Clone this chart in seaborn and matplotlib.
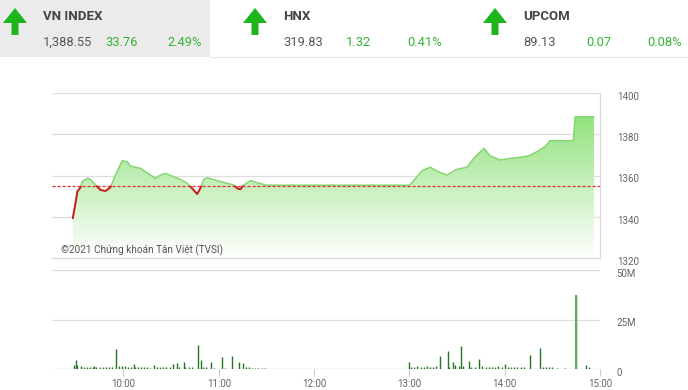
import numpy as np
import pandas as pd
import matplotlib
matplotlib.use("Agg")
import matplotlib.pyplot as plt
import matplotlib.transforms as mtransforms
from matplotlib.patches import Polygon, Rectangle
from matplotlib.lines import Line2D
import seaborn as sns

# ---------------- data ----------------
# header
idx_names = ["VN INDEX", "HNX", "UPCOM"]
idx_values = ["1,388.55", "319.83", "89.13"]
idx_changes = ["33.76", "1.32", "0.07"]
idx_pcts = ["2.49%", "0.41%", "0.08%"]

ref_price = 1354.79

# price: minutes after 09:00 and index value
price_min = [28.1, 29.8, 30.9, 33.0, 34.0, 37.2, 39.2, 42.4, 45.5, 48.7, 51.8, 55.0,
             59.2, 62.3, 64.4, 67.5, 70.7, 73.8, 77.0, 80.1, 83.3, 86.4, 90.6, 95.8,
             100.1, 103.2, 106.4, 108.4, 110.5, 112.6, 118.9, 125.2, 129.4, 131.5,
             133.6, 135.7, 139.9, 144.1, 147.2, 150.0, 240.0, 241.6, 247.9, 253.1,
             258.3, 263.6, 269.9, 276.2, 281.4, 287.0, 290.8, 297.1, 303.4, 309.6,
             314.9, 320.2, 325.4, 328.5, 343.2, 344.3, 356.2]
price_val = [1339.3, 1346.5, 1352.2, 1354.3, 1357.0, 1358.6, 1358.1, 1355.4, 1353.0,
             1352.5, 1354.3, 1360.2, 1367.2, 1366.7, 1364.6, 1364.0, 1363.5, 1361.8,
             1360.2, 1358.6, 1360.2, 1361.0, 1359.7, 1358.1, 1356.2, 1353.8, 1351.0,
             1353.8, 1358.1, 1358.9, 1357.5, 1356.2, 1355.4, 1353.8, 1353.3, 1355.4,
             1357.5, 1356.5, 1355.9, 1355.3, 1355.3, 1356.5, 1362.3, 1364.0, 1361.8,
             1360.2, 1363.0, 1364.0, 1369.1, 1373.2, 1369.5, 1367.5, 1368.3, 1368.8,
             1369.5, 1371.5, 1374.0, 1376.9, 1376.9, 1388.5, 1388.5]

# volume (millions): minutes after 09:00
vol_min = [29, 30.3, 31, 33, 35, 37, 39, 41, 41.3, 43, 45, 47, 49, 51, 53, 55.4, 57, 59,
           61, 63, 65, 66.5, 67, 69, 71, 73, 75, 77, 79, 81, 83, 85, 87, 89, 91.4, 93.8,
           95, 97.9, 99, 101, 103, 106.7, 108.9, 110, 112, 115.2, 117, 121.8, 124,
           128.4, 133, 135, 137, 139, 141, 143, 145, 147, 149,
           240, 241, 243, 245, 247, 249, 251, 253, 255, 257, 259.4, 264, 265, 267.7,
           269, 271, 272.4, 274, 277.8, 279, 281, 284.1, 286, 288, 290, 292, 294, 296,
           298, 300.2, 302, 304, 306, 308, 310, 312, 316, 322.3, 324, 326, 328, 330,
           333, 338, 345, 351.3, 353]
vol_val = [2.0, 4.5, 1.8, 1.5, 1.2, 1.0, 1.1, 1.0, 1.5, 0.9, 0.8, 1.1, 0.9, 1.0, 1.2,
           10.0, 1.6, 1.3, 1.4, 1.2, 1.0, 2.5, 0.9, 0.8, 0.9, 0.8, 1.0, 0.7, 2.0, 0.8,
           1.0, 0.8, 0.9, 1.1, 2.5, 3.0, 1.0, 3.7, 0.9, 0.8, 1.0, 12.3, 4.5, 1.0, 0.8,
           3.7, 0.6, 5.9, 0.5, 6.7, 3.7, 2.8, 1.2, 0.8, 0.7, 0.6, 0.5, 0.5, 0.4,
           3.7, 1.2, 1.0, 1.3, 1.1, 1.0, 1.4, 1.2, 1.0, 1.3, 6.7, 9.2, 1.2, 3.7, 2.0,
           1.5, 11.7, 1.4, 4.2, 1.2, 1.0, 5.3, 1.3, 1.1, 1.2, 1.0, 1.1, 1.3, 1.0, 2.5,
           1.2, 1.0, 1.1, 0.9, 1.0, 0.8, 7.0, 10.4, 1.2, 1.0, 0.9, 0.8, 0.4, 0.4, 37.4,
           2.2, 0.8]

x_ticks_min = [60, 120, 180, 240, 300, 360]
x_tick_labels = ["10:00", "11:00", "12:00", "13:00", "14:00", "15:00"]
price_ticks = [1320, 1340, 1360, 1380, 1400]
vol_ticks = [0, 25, 50]
vol_tick_labels = ["0", "25M", "50M"]

# ---------------- style ----------------
sns.set_theme(style="white")
FONT = ["Roboto", "DejaVu Sans"]
plt.rcParams["font.family"] = FONT

W, H = 688, 390
fig = plt.figure(figsize=(W / 100, H / 100), dpi=100)
fig.patch.set_facecolor("white")


def fx(px):
    return px / W


def fy(py):
    return 1 - py / H


# header background
fig.add_artist(Rectangle((0, fy(57)), fx(210), 57 / H, transform=fig.transFigure,
                         facecolor="#ebebeb", edgecolor="none", zorder=0))
fig.add_artist(Line2D([fx(210), 1], [fy(57), fy(57)], transform=fig.transFigure,
                      color="#e6e6e6", lw=0.8))

arrow_x = [15, 255, 495]
text_x = [43, 283, 523]
chg_x = [105, 346, 586]
pct_x = [167, 407, 647]
GREEN_TXT = "#33b533"
for i in range(3):
    cx = arrow_x[i]
    pts = [(cx, 8), (cx + 12, 23), (cx + 3.5, 23), (cx + 3.5, 35), (cx - 3.5, 35),
           (cx - 3.5, 23), (cx - 12, 23)]
    fig.add_artist(Polygon([(fx(a), fy(b)) for a, b in pts], closed=True,
                           transform=fig.transFigure, facecolor="#1db41d",
                           edgecolor="none"))
    fig.text(fx(text_x[i]), fy(17), idx_names[i], fontsize=9.5, fontweight="bold",
             color="#444444", va="center", ha="left", family=FONT)
    fig.text(fx(text_x[i]), fy(42), idx_values[i], fontsize=9.3, color="#555555",
             va="center", ha="left", family=FONT)
    fig.text(fx(chg_x[i]), fy(42), idx_changes[i], fontsize=9.3, color=GREEN_TXT,
             va="center", ha="left", family=FONT)
    fig.text(fx(pct_x[i]), fy(42), idx_pcts[i], fontsize=9.3, color=GREEN_TXT,
             va="center", ha="left", family=FONT)

# ---------------- price axes ----------------
L, R = 52, 600
ax = fig.add_axes([fx(L), fy(258), fx(R - L), (258 - 93) / H])
ax.set_xlim(15, 360)
ax.set_ylim(1320, 1400)

df = pd.DataFrame({"t": price_min, "p": price_val})

# gradient fill under the line
fill = ax.fill_between(df["t"], df["p"], 1320, facecolor="none", edgecolor="none")
top_c = np.array([0.55, 0.88, 0.47])
bot_c = np.array([1.0, 1.0, 1.0])
n = 256
fr = np.linspace(0, 1, n)[:, None]  # 0 bottom -> 1 top
grad = bot_c + (top_c - bot_c) * fr
grad = np.clip(grad, 0, 1)[:, None, :]
im = ax.imshow(grad, extent=[15, 360, 1320, 1392], origin="lower", aspect="auto",
               zorder=1, interpolation="bilinear")
clip_path = fill.get_paths()[0]
im.set_clip_path(clip_path, transform=ax.transData)

for v in [1340, 1360, 1380, 1400]:
    ax.axhline(v, color="#dedede", lw=0.9, zorder=0.5)

sns.lineplot(data=df, x="t", y="p", ax=ax, color="#86d673", lw=1.1, zorder=3,
             estimator=None, sort=False)

# red segments where price below reference
tt = np.linspace(df["t"].min(), df["t"].max(), 4000)
pp = np.interp(tt, df["t"], df["p"])
red = np.where(pp < ref_price, pp, np.nan)
ax.plot(tt, red, color="#c81e1e", lw=1.4, zorder=4)

ax.axhline(ref_price, color="#e03030", lw=0.9, ls=(0, (2.5, 1.5)), zorder=5)

shift_down = mtransforms.ScaledTranslation(0, -3 / 100, fig.dpi_scale_trans)

ax.set_xticks([])
ax.yaxis.tick_right()
ax.set_yticks(price_ticks)
ax.set_yticklabels([str(v) for v in price_ticks])
ax.tick_params(axis="y", length=0, pad=12, labelsize=7, labelcolor="#666666")
for lab in ax.get_yticklabels():
    lab.set_family(FONT)
    lab.set_transform(lab.get_transform() + shift_down)
ax.set_xlabel("")
ax.set_ylabel("")
for s in ["left", "top"]:
    ax.spines[s].set_visible(False)
ax.spines["right"].set_color("#d8d8d8")
ax.spines["right"].set_linewidth(0.9)
ax.spines["bottom"].set_color("#d8d8d8")
ax.spines["bottom"].set_linewidth(0.9)
ax.patch.set_alpha(0)

ax.text((61 - L) / (R - L), (258 - 250) / 165, "©2021 Chứng khoán Tân Việt (TVSI)",
        transform=ax.transAxes, fontsize=7.2, color="#555555", va="center", ha="left",
        family=FONT, zorder=6)

# ---------------- volume axes ----------------
axv = fig.add_axes([fx(L), fy(369), fx(R - L), (369 - 270) / H])
axv.set_xlim(15, 360)
axv.set_ylim(0, 50)
for v in [25, 50]:
    axv.axhline(v, color="#dedede", lw=0.9, zorder=0.5)
axv.axhline(0, color="#cccccc", lw=0.9, zorder=0.5)
vdf = pd.DataFrame({"t": vol_min, "v": vol_val})
axv.vlines(vdf["t"], 0, vdf["v"], color="#257525", lw=1.0, zorder=2)
axv.vlines([345], 0, [37.4], color="#6fa56f", lw=1.6, zorder=2)

axv.set_xticks(x_ticks_min)
axv.set_xticklabels(x_tick_labels)
axv.yaxis.tick_right()
axv.set_yticks(vol_ticks)
axv.set_yticklabels(vol_tick_labels)
axv.tick_params(axis="y", length=0, pad=12, labelsize=7, labelcolor="#666666")
axv.tick_params(axis="x", length=5, width=0.8, color="#cccccc", direction="out",
                labelsize=7, labelcolor="#666666", pad=2, bottom=True)
for lab in axv.get_xticklabels() + axv.get_yticklabels():
    lab.set_family(FONT)
for lab in axv.get_yticklabels():
    lab.set_transform(lab.get_transform() + shift_down)
for s in ["left", "top", "right", "bottom"]:
    axv.spines[s].set_visible(False)
axv.patch.set_alpha(0)

fig.savefig("out.png", dpi=100)
